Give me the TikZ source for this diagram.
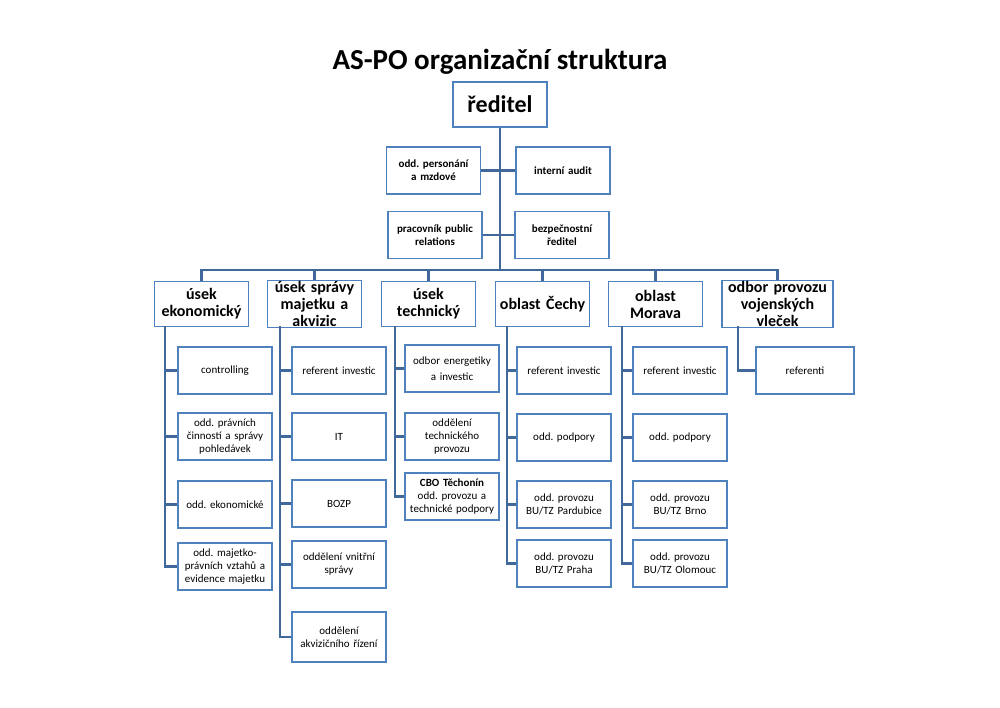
\documentclass[tikz,border=0pt]{standalone}
\usepackage{fontspec}
\setmainfont{Carlito}
\frenchspacing
\begin{document}
\begin{tikzpicture}[x=1pt,y=-1pt,
  box/.style={draw=boxblue,line width=1.3pt,fill=white,align=center,inner sep=1pt},
  head/.style={box,text width=108pt,minimum width=94pt,minimum height=45pt,font=\bfseries\fontsize{16}{17}\selectfont},
  kid/.style={box,text width=92pt,minimum width=94pt,minimum height=47pt,font=\fontsize{11}{13}\selectfont},
  conn/.style={draw=lineblue,line width=2.8pt}]
\definecolor{boxblue}{HTML}{4F81BD}
\definecolor{lineblue}{HTML}{41689A}
\useasboundingbox (0,0) rectangle (1000,707);
\node[font=\bfseries\fontsize{29}{31}\selectfont] (title) at (500,62) {AS-PO organizační struktura};
\coordinate (bus) at (500,270);
\node[draw=boxblue,line width=2.8pt,fill=white,minimum width=94pt,minimum height=45pt,font=\bfseries\fontsize{24}{26}\selectfont] (dir) at (500,104.5) {ředitel};
\draw[conn] (dir.south) -- (bus);
\node[kid] (pers) at (433.5,170.5) {\bfseries odd. personání\\ a mzdové};
\node[kid] (audit) at (563,170.5) {\bfseries interní audit};
\node[kid] (pr) at (435,235) {\bfseries pracovník public\\ relations};
\node[kid] (bez) at (562,235) {\bfseries bezpečnostní\\ ředitel};
\draw[conn] (pers.east) -- (audit.west);
\draw[conn] (pr.east) -- (bez.west);
% heads
\node[head,text width=92pt] (h1) at (201.5,304) {úsek\\ ekonomický};
\node[head,text width=92pt] (h2) at (314.5,304) {úsek správy\\ majetku a\\ akvizic};
\node[head,text width=92pt] (h3) at (428.5,304) {úsek\\ technický};
\node[head,text width=92pt] (h4) at (542.5,304) {oblast Čechy};
\node[head,text width=92pt] (h5) at (655.5,304) {oblast Morava};
\node[head,text width=109pt,minimum width=111pt] (h6) at (777.5,304) {odbor provozu\\ vojenských vleček};
\draw[conn] (h1.north) -- (h1.north|-bus) -- (h6.north|-bus) -- (h6.north);
\foreach \h in {h2,h3,h4,h5} \draw[conn] (\h.north) -- (\h.north|-bus);
% spines
\coordinate (s1) at (165,326);
\coordinate (s2) at (280,326);
\coordinate (s3) at (395,326);
\coordinate (s4) at (507,326);
\coordinate (s5) at (622,326);
\coordinate (s6) at (738,326);
% column 1
\node[kid] (a1) at (225,370.5) {controlling};
\node[kid] (a2) at (225,436.5) {odd. právních\\ činností a správy\\ pohledávek};
\node[kid] (a3) at (225,504.5) {odd. ekonomické};
\node[kid] (a4) at (225,566.5) {odd. majetko-\\ právních vztahů a\\ evidence majetku};
% column 2
\node[kid] (b1) at (339,370.5) {referent investic};
\node[kid] (b2) at (339,436.5) {IT};
\node[kid] (b3) at (339,503.5) {BOZP};
\node[kid] (b4) at (339,564.5) {oddělení vnitřní\\ správy};
\node[kid,minimum height=50pt] (b5) at (339,637) {oddělení\\ akvizičního řízení};
% column 3
\node[kid] (c1) at (452,368.5) {odbor energetiky\\[3pt] a investic};
\node[kid] (c2) at (452,436.5) {oddělení\\ technického\\ provozu};
\node[kid] (c3) at (452,496.5) {\textbf{CBO Těchonín}\\ odd. provozu a\\ technické podpory};
% column 4
\node[kid] (d1) at (564,370.5) {referent investic};
\node[kid] (d2) at (564,437.5) {odd. podpory};
\node[kid] (d3) at (564,504.5) {odd. provozu\\ BU/TZ Pardubice};
\node[kid] (d4) at (564,563.5) {odd. provozu\\ BU/TZ Praha};
% column 5
\node[kid] (e1) at (680,370.5) {referent investic};
\node[kid] (e2) at (680,437.5) {odd. podpory};
\node[kid] (e3) at (680,504.5) {odd. provozu\\ BU/TZ Brno};
\node[kid] (e4) at (680,563.5) {odd. provozu\\ BU/TZ Olomouc};
% column 6
\node[kid,minimum width=98pt] (f1) at (805,370.5) {referenti};
% connectors
\draw[conn] (s1) |- (a4.west);
\foreach \n in {a1,a2,a3} \draw[conn] (s1|-\n.west) -- (\n.west);
\draw[conn] (s2) |- (b5.west);
\foreach \n in {b1,b2,b3,b4} \draw[conn] (s2|-\n.west) -- (\n.west);
\draw[conn] (s3) |- (c3.west);
\foreach \n in {c1,c2} \draw[conn] (s3|-\n.west) -- (\n.west);
\draw[conn] (s4) |- (d4.west);
\foreach \n in {d1,d2,d3} \draw[conn] (s4|-\n.west) -- (\n.west);
\draw[conn] (s5) |- (e4.west);
\foreach \n in {e1,e2,e3} \draw[conn] (s5|-\n.west) -- (\n.west);
\draw[conn] (s6) |- (f1.west);
\end{tikzpicture}
\end{document}
